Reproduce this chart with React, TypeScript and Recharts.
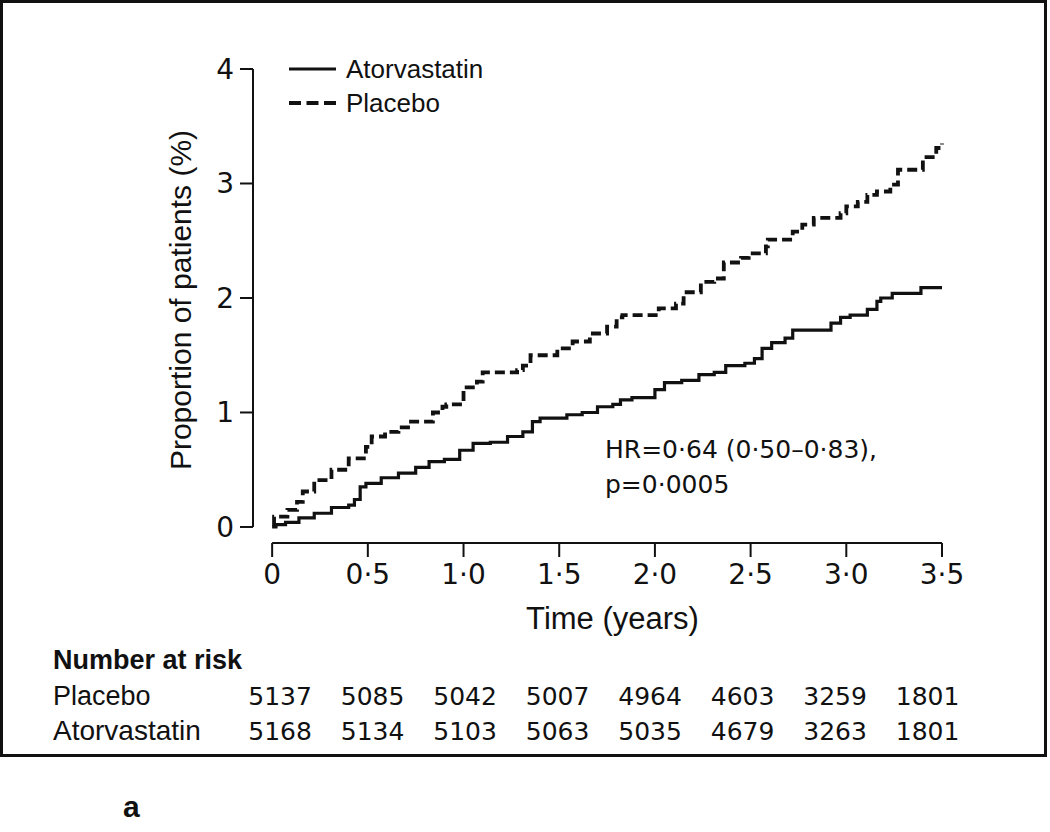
import React from 'react';
import { LineChart, Line, XAxis, YAxis, ReferenceLine, Legend, Label } from 'recharts';

// time (years) and cumulative proportion (%)
const atorvaTime = [0, 0.02, 0.07, 0.14, 0.22, 0.31, 0.40, 0.43, 0.46, 0.49, 0.57, 0.66, 0.75, 0.82, 0.90, 0.98, 1.05, 1.14, 1.23, 1.31, 1.36, 1.40, 1.54, 1.62, 1.70, 1.78, 1.82, 1.88, 2.00, 2.05, 2.14, 2.23, 2.31, 2.37, 2.47, 2.52, 2.56, 2.61, 2.68, 2.72, 2.92, 2.97, 3.02, 3.11, 3.16, 3.18, 3.24, 3.39, 3.5];
const atorvaPct = [0, 0.02, 0.04, 0.08, 0.12, 0.17, 0.19, 0.24, 0.35, 0.38, 0.43, 0.47, 0.52, 0.57, 0.59, 0.67, 0.73, 0.74, 0.79, 0.83, 0.92, 0.95, 0.98, 1.00, 1.05, 1.07, 1.11, 1.13, 1.20, 1.26, 1.28, 1.33, 1.35, 1.41, 1.43, 1.47, 1.56, 1.61, 1.65, 1.72, 1.78, 1.83, 1.85, 1.90, 1.97, 2.00, 2.04, 2.09, 2.09];

const placeboTime = [0, 0.01, 0.08, 0.13, 0.16, 0.22, 0.31, 0.40, 0.49, 0.52, 0.59, 0.66, 0.71, 0.84, 0.89, 0.91, 1.00, 1.07, 1.10, 1.28, 1.31, 1.35, 1.49, 1.57, 1.66, 1.75, 1.80, 1.83, 2.02, 2.11, 2.15, 2.24, 2.31, 2.36, 2.45, 2.49, 2.58, 2.59, 2.72, 2.77, 2.83, 2.97, 3.00, 3.06, 3.11, 3.16, 3.23, 3.27, 3.40, 3.47, 3.5];
const placeboPct = [0.02, 0.09, 0.15, 0.22, 0.31, 0.41, 0.50, 0.60, 0.70, 0.79, 0.83, 0.87, 0.92, 1.00, 1.05, 1.07, 1.22, 1.27, 1.35, 1.37, 1.41, 1.50, 1.56, 1.62, 1.69, 1.75, 1.83, 1.85, 1.91, 1.95, 2.05, 2.14, 2.17, 2.31, 2.35, 2.39, 2.45, 2.51, 2.58, 2.64, 2.70, 2.74, 2.80, 2.84, 2.90, 2.93, 2.99, 3.12, 3.23, 3.31, 3.35];

const xTicks = [0, 0.5, 1, 1.5, 2, 2.5, 3, 3.5];
const xTickLabels = ['0', '0·5', '1·0', '1·5', '2·0', '2·5', '3·0', '3·5'];
const yTicks = [0, 1, 2, 3, 4];

const placeboAtRisk = [5137, 5085, 5042, 5007, 4964, 4603, 3259, 1801];
const atorvaAtRisk = [5168, 5134, 5103, 5063, 5035, 4679, 3263, 1801];

const atorvaData = atorvaTime.map((t, i) => ({ t, v: atorvaPct[i] }));
const placeboData = placeboTime.map((t, i) => ({ t, v: placeboPct[i] }));

const FONT = '"Liberation Sans", Arial, sans-serif';
const NUMFONT = '"DejaVu Sans", sans-serif';
const INK = '#111';
const X_DOMAIN: [number, number] = [-0.1, 3.5];
const Y_MIN = -0.14;

// tick label plus the two "number at risk" rows under each tick
const TimeTick = (props: any) => {
  const { x, y, index } = props;
  const shift = 8 - index * 3.2;
  return (
    <g fontFamily={NUMFONT} fill={INK}>
      <text x={x} y={y + 20} textAnchor="middle" fontSize={28}>{xTickLabels[index]}</text>
      <text x={x + shift} y={y + 141} textAnchor="middle" fontSize={25}>{placeboAtRisk[index]}</text>
      <text x={x + shift} y={y + 176} textAnchor="middle" fontSize={25}>{atorvaAtRisk[index]}</text>
    </g>
  );
};

const XAxisTexts = (props: any) => {
  const vb = props.viewBox;
  return (
    <g fontFamily={FONT} fill={INK}>
      <text x={vb.x + vb.width / 2 + 15} y={vb.y + 86} textAnchor="middle" fontSize={31}>Time (years)</text>
      <text x={53} y={vb.y + 126} fontSize={27} fontWeight="bold">Number at risk</text>
      <text x={53} y={vb.y + 162} fontSize={27}>Placebo</text>
      <text x={53} y={vb.y + 197} fontSize={28}>Atorvastatin</text>
    </g>
  );
};

const YTitle = (props: any) => {
  const vb = props.viewBox;
  const cx = vb.x + vb.width - 73;
  const cy = vb.y + vb.height / 2 - 6;
  return (
    <text x={cx} y={cy} transform={`rotate(-90 ${cx} ${cy})`} textAnchor="middle" dominantBaseline="central" fontSize={30} fontFamily={FONT} fill={INK}>
      Proportion of patients (%)
    </text>
  );
};

const LegendBox = () => (
  <div style={{ fontFamily: FONT, fontSize: 26, color: INK }}>
    <div style={{ display: 'flex', alignItems: 'center', height: 34 }}>
      <svg width={58} height={10}><line x1={1} y1={5} x2={48} y2={5} stroke={INK} strokeWidth={3} /></svg>
      <span>Atorvastatin</span>
    </div>
    <div style={{ display: 'flex', alignItems: 'center', height: 34 }}>
      <svg width={58} height={10}><line x1={1} y1={5} x2={48} y2={5} stroke={INK} strokeWidth={4} strokeDasharray="12 5.5" /></svg>
      <span>Placebo</span>
    </div>
  </div>
);

export default function App() {
  return (
    <div style={{ position: 'absolute', left: 0, top: 0, width: 1050, height: 832, background: '#fff' }}>
      <div style={{ position: 'absolute', left: 0, top: 0, width: 1047, height: 757, border: '3px solid #111', boxSizing: 'border-box' }} />
      <div style={{ position: 'absolute', left: 0, top: 0 }}>
        <LineChart width={1040} height={760} margin={{ top: 69, right: 98, left: 0, bottom: 2 }}>
          <XAxis
            xAxisId="main"
            type="number"
            dataKey="t"
            domain={X_DOMAIN}
            ticks={xTicks}
            axisLine={false}
            tickLine={{ stroke: INK, strokeWidth: 2 }}
            tickSize={14}
            tickMargin={7}
            height={215}
            tick={<TimeTick />}
            interval={0}
          >
            <Label content={<XAxisTexts />} />
          </XAxis>
          <YAxis
            type="number"
            domain={[Y_MIN, 4]}
            ticks={yTicks}
            axisLine={false}
            tickLine={{ stroke: INK, strokeWidth: 2 }}
            tickSize={13}
            tickMargin={6}
            width={253}
            interval={0}
            tick={{ fontSize: 28, fill: INK, fontFamily: NUMFONT }}
          >
            <Label content={<YTitle />} />
          </YAxis>
          <ReferenceLine xAxisId="main" segment={[{ x: 0, y: Y_MIN }, { x: 3.5, y: Y_MIN }]} stroke={INK} strokeWidth={2} />
          <ReferenceLine xAxisId="main" segment={[{ x: -0.1, y: 0 }, { x: -0.1, y: 4 }]} stroke={INK} strokeWidth={2} />
          <Legend
            content={<LegendBox />}
            layout="horizontal"
            verticalAlign="middle"
            align="center"
            wrapperStyle={{ position: 'absolute', left: 288, top: 52, width: 'auto' }}
          />
          <Line
            xAxisId="main"
            data={placeboData}
            dataKey="v"
            name="Placebo"
            type="stepAfter"
            stroke={INK}
            strokeWidth={3.8}
            strokeDasharray="10 5"
            dot={false}
            isAnimationActive={false}
          />
          <Line
            xAxisId="main"
            data={atorvaData}
            dataKey="v"
            name="Atorvastatin"
            type="stepAfter"
            stroke={INK}
            strokeWidth={3.2}
            dot={false}
            isAnimationActive={false}
          />
        </LineChart>
      </div>
      <div style={{ position: 'absolute', left: 605, top: 432, fontFamily: NUMFONT, fontSize: 25, lineHeight: '35px', color: INK }}>
        <div>HR=0·64 (0·50–0·83),</div>
        <div>p=0·0005</div>
      </div>
      <div style={{ position: 'absolute', left: 123, top: 790, fontFamily: FONT, fontSize: 30, fontWeight: 'bold', color: INK }}>a</div>
    </div>
  );
}
